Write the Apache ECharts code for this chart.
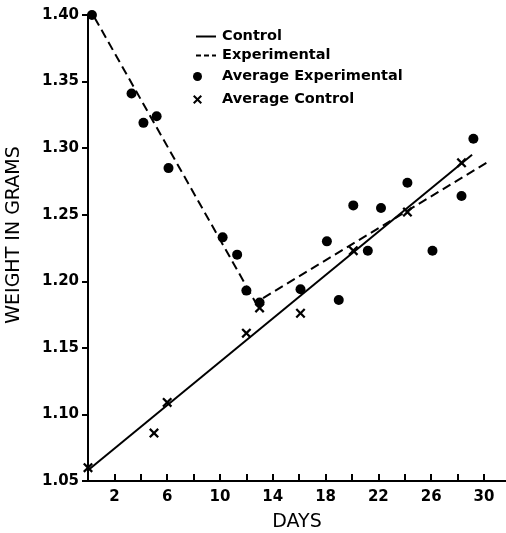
<!DOCTYPE html>
<html>
<head>
<meta charset="utf-8">
<script src="https://cdn.jsdelivr.net/npm/echarts@6/dist/echarts.min.js"></script>
<style>
  html, body { margin: 0; padding: 0; background: #fff; }
  #chart { width: 506px; height: 533px; }
</style>
</head>
<body>
<div id="chart"></div>
<script>
// fitted lines [day, grams]
const controlLine = [[0, 1.058], [29.1, 1.295]]
const experimentalLine = [[0.5, 1.398], [12.7, 1.184], [30.2, 1.289]]

// averages [day, grams]
const avgExperimental = [
  [0.3, 1.400], [3.3, 1.341], [4.2, 1.319], [5.2, 1.324], [6.1, 1.285],
  [10.2, 1.233], [11.3, 1.220], [12.0, 1.193], [13.0, 1.184], [16.1, 1.194],
  [18.1, 1.230], [19.0, 1.186], [20.1, 1.257], [21.2, 1.223], [22.2, 1.255],
  [24.2, 1.274], [26.1, 1.223], [28.3, 1.264], [29.2, 1.307]
]
const avgControl = [
  [0, 1.060], [5.0, 1.086], [6.0, 1.109], [12.0, 1.161], [13.0, 1.180],
  [16.1, 1.176], [20.1, 1.223], [24.2, 1.252], [28.3, 1.289]
]

// axis ticks / labels
const xTickDays = [2, 4, 6, 8, 10, 12, 14, 16, 18, 20, 22, 24, 26, 28, 30]
const xLabelDays = [2, 6, 10, 14, 18, 22, 26, 30]
const yTicks = [1.05, 1.10, 1.15, 1.20, 1.25, 1.30, 1.35, 1.40]

const font = 'DejaVu Sans'
// x-shaped marker
const crossPath = 'path://M0,1.6L1.6,0L5,3.4L8.4,0L10,1.6L6.6,5L10,8.4L8.4,10L5,6.6L1.6,10L0,8.4L3.4,5Z'

const chart = echarts.init(document.getElementById('chart'))
const option = {
  animation: false,
  backgroundColor: '#fff',
  grid: {
    left: 88,
    right: 0,
    top: 15,
    bottom: 52,
    outerBoundsMode: 'none'
  },
  legend: [
    {
      // line samples, symbol hidden
      data: [
        { name: 'Control', itemStyle: { opacity: 0 } },
        { name: 'Experimental', itemStyle: { opacity: 0 }, lineStyle: { type: [5, 3] } }
      ],
      orient: 'vertical',
      left: 190,
      top: 24,
      itemWidth: 20,
      itemHeight: 14,
      itemGap: 4,
      selectedMode: false,
      textStyle: { fontFamily: font, fontSize: 14.5, fontWeight: 'bold', color: '#000', lineHeight: 14, padding: [0, 0, 0, 1] }
    },
    {
      // marker samples
      data: ['Average Experimental', 'Average Control'],
      orient: 'vertical',
      left: 188,
      top: 64,
      itemWidth: 9,
      itemHeight: 9,
      itemGap: 8,
      selectedMode: false,
      textStyle: { fontFamily: font, fontSize: 14.5, fontWeight: 'bold', color: '#000', lineHeight: 14, padding: [0, 0, 0, 15] }
    }
  ],
  xAxis: {
    type: 'value',
    min: 0,
    max: 31.67,
    name: 'DAYS',
    nameLocation: 'middle',
    nameGap: 32,
    nameTextStyle: { fontFamily: font, fontSize: 19, color: '#000' },
    splitLine: { show: false },
    axisLine: { onZero: false, lineStyle: { color: '#000', width: 2 } },
    axisTick: { inside: true, length: 7, customValues: xTickDays, lineStyle: { color: '#000', width: 2 } },
    axisLabel: { customValues: xLabelDays, fontFamily: font, fontSize: 15, fontWeight: 'bold', color: '#000', margin: 9 }
  },
  yAxis: {
    type: 'value',
    min: 1.05,
    max: 1.40,
    name: 'WEIGHT IN GRAMS',
    nameLocation: 'middle',
    nameGap: 64,
    nameTextStyle: { fontFamily: font, fontSize: 19, color: '#000', padding: [0, 0, 0, 26] },
    splitLine: { show: false },
    axisLine: { onZero: false, lineStyle: { color: '#000', width: 2 } },
    axisTick: { length: 6, customValues: yTicks, lineStyle: { color: '#000', width: 2 } },
    axisLabel: {
      customValues: yTicks,
      fontFamily: font,
      fontSize: 15,
      fontWeight: 'bold',
      color: '#000',
      margin: 9,
      formatter: function(v) {
        return v.toFixed(2)
      }
    }
  },
  series: [
    {
      name: 'Control',
      type: 'line',
      data: controlLine,
      symbol: 'none',
      lineStyle: { color: '#000', width: 2 },
      itemStyle: { color: '#000' }
    },
    {
      name: 'Experimental',
      type: 'line',
      data: experimentalLine,
      symbol: 'none',
      lineStyle: { color: '#000', width: 2, type: [9, 5] },
      itemStyle: { color: '#000' }
    },
    {
      name: 'Average Experimental',
      type: 'scatter',
      data: avgExperimental,
      symbol: 'circle',
      symbolSize: 10,
      itemStyle: { color: '#000', opacity: 1 },
      z: 3
    },
    {
      name: 'Average Control',
      type: 'scatter',
      data: avgControl,
      symbol: crossPath,
      symbolSize: 10,
      itemStyle: { color: '#000', opacity: 1 },
      z: 3
    }
  ]
}
option && chart.setOption(option)
</script>
</body>
</html>
